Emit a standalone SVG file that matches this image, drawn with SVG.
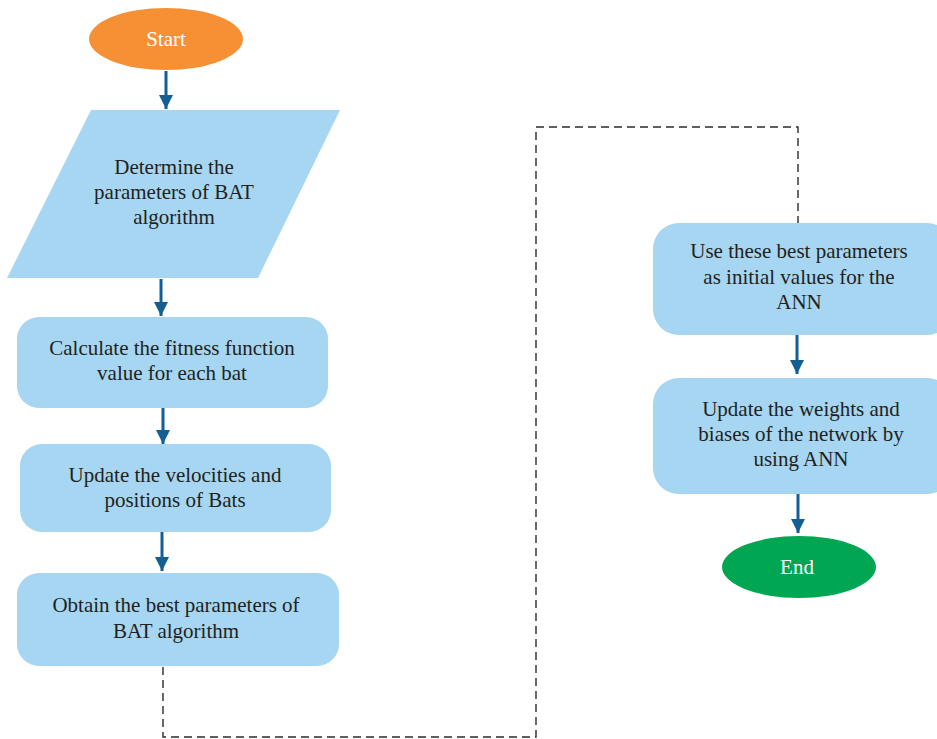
<svg xmlns="http://www.w3.org/2000/svg" width="937" height="739" viewBox="0 0 937 739">
<style>
.box{fill:#A6D6F1;}
.t{font-family:"Liberation Serif","DejaVu Serif",serif;font-size:21px;fill:#231F20;text-anchor:middle;}
.tw{font-family:"Liberation Serif","DejaVu Serif",serif;font-size:21px;fill:#FFFFFF;text-anchor:middle;}
.arr{stroke:#135F94;stroke-width:3;fill:none;marker-end:url(#ah);}
.dash{stroke:#2B2B2B;stroke-width:1.4;fill:none;stroke-dasharray:8 5;}
</style>
<defs>
<marker id="ah" markerUnits="userSpaceOnUse" markerWidth="16" markerHeight="14" refX="14" refY="7" orient="auto">
<path d="M0,0 L14,7 L0,14 Z" fill="#135F94"/>
</marker>
</defs>
<rect width="937" height="739" fill="#FFFFFF"/>
<g id="connectors">
<line class="arr" x1="166" y1="71" x2="166" y2="109"/>
<line class="arr" x1="161" y1="279" x2="161" y2="316"/>
<line class="arr" x1="163" y1="408" x2="163" y2="444"/>
<line class="arr" x1="162" y1="532" x2="162" y2="571"/>
<line class="arr" x1="797" y1="335" x2="797" y2="374"/>
<line class="arr" x1="798" y1="494" x2="798" y2="533"/>
<path class="dash" d="M163,667 L163,737 L536,737 L536,127 L798,127 L798,223"/>
</g>
<g id="start">
<ellipse cx="166" cy="39" rx="77" ry="31" fill="#F59035"/>
<text class="tw" x="166" y="46">Start</text>
</g>
<g id="determine">
<polygon class="box" points="91,110 340,110 258,278 7,278"/>
<text class="t" x="174" y="174">Determine the</text>
<text class="t" x="174" y="199">parameters of BAT</text>
<text class="t" x="174" y="224">algorithm</text>
</g>
<g id="calculate">
<rect class="box" x="17" y="317" width="311" height="91" rx="22"/>
<text class="t" x="172" y="355">Calculate the fitness function</text>
<text class="t" x="172" y="380">value for each bat</text>
</g>
<g id="update-velocities">
<rect class="box" x="20" y="444" width="311" height="88" rx="22"/>
<text class="t" x="175" y="482">Update the velocities and</text>
<text class="t" x="175" y="507">positions of Bats</text>
</g>
<g id="obtain">
<rect class="box" x="17" y="573" width="322" height="93" rx="22"/>
<text class="t" x="176" y="612">Obtain the best parameters of</text>
<text class="t" x="176" y="638">BAT algorithm</text>
</g>
<g id="use-params">
<rect class="box" x="653" y="223" width="300" height="112" rx="26"/>
<text class="t" x="799" y="258">Use these best parameters</text>
<text class="t" x="799" y="284">as initial values for the</text>
<text class="t" x="799" y="309">ANN</text>
</g>
<g id="update-weights">
<rect class="box" x="653" y="378" width="300" height="116" rx="26"/>
<text class="t" x="801" y="416">Update the weights and</text>
<text class="t" x="801" y="441">biases of the network by</text>
<text class="t" x="801" y="466">using ANN</text>
</g>
<g id="end">
<ellipse cx="799" cy="567" rx="77" ry="31" fill="#00A651"/>
<text class="tw" x="797" y="574">End</text>
</g>
</svg>
